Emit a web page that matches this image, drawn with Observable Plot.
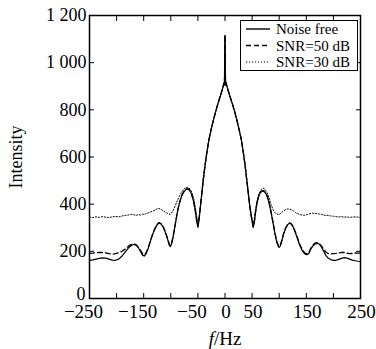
<!DOCTYPE html>
<html><head><meta charset="utf-8">
<script src="https://cdn.jsdelivr.net/npm/d3@7"></script>
<script src="https://cdn.jsdelivr.net/npm/@observablehq/plot@0.6"></script>
<style>
body{margin:0;background:#fff;}
#wrap{position:relative;width:376px;height:349px;}
#legend{position:absolute;left:240px;top:20px;}
</style>
</head><body>
<div id="wrap"></div>
<script>
const freq = [-250,-244,-238,-232,-226,-220,-214,-208,-202,-196,
-190,-184,-178,-172,-168,-164,-160,-156,-152,-149,
-146,-142,-138,-134,-130,-126,-122,-118,-114,-110,
-106,-103,-101,-99,-96,-92,-88,-84,-80,-76,
-72,-69,-66,-62,-58,-55,-52,-50,-48,-46,
-43,-40,-37,-34,-30,-26,-22,-18,-14,-10,
-7,-4,-2,-1,0,1,2,4,7,10,
14,18,22,26,30,34,37,40,43,46,
49,52,54,56,59,63,67,70,73,77,
81,85,89,93,96,99,100,102,105,108,
112,116,119,122,126,130,134,138,142,146,
149,152,155,158,162,166,170,174,178,182,
186,190,195,200,205,210,215,220,225,230,
235,240,245,250];
const noiseFree = [162,164,167,170,172,171,167,163,162,167,
180,198,215,226,229,226,216,200,184,180,
188,210,240,268,292,310,320,316,302,280,
252,228,220,228,258,310,365,405,435,452,
462,464,460,445,412,375,325,302,330,375,
440,505,560,610,668,712,750,785,818,848,
870,893,912,905,1115,905,914,895,872,850,
822,790,755,715,675,615,565,505,445,385,
340,302,320,360,405,440,453,456,452,438,
410,365,315,265,235,218,217,222,245,272,
298,314,319,316,302,278,252,225,205,192,
187,186,192,208,222,231,234,230,218,200,
183,172,165,162,162,166,170,173,171,167,
163,160,158,157];
const snr50 = [191,192,194,196,195,193,190,188,190,194,
200,210,222,230,231,228,218,204,190,186,
192,213,242,270,294,312,322,318,304,283,
256,232,225,232,260,312,366,406,436,454,
464,466,462,446,414,377,328,306,333,377,
441,506,561,611,669,713,751,786,819,849,
871,894,913,906,1115,906,915,896,873,851,
823,791,756,716,676,616,566,506,446,387,
343,306,323,362,407,442,455,458,454,440,
412,367,318,268,239,222,221,226,248,275,
300,316,321,318,305,281,256,230,210,196,
191,190,196,212,226,235,237,233,223,208,
197,191,189,190,191,193,196,195,192,190,
191,193,192,193];
const snr30 = [345,343,346,344,347,345,343,346,348,346,
350,352,354,357,355,352,356,354,358,356,
360,362,366,370,374,379,382,378,372,366,
361,358,357,362,372,392,415,435,452,464,
470,472,468,455,425,390,345,318,340,380,
442,506,562,612,670,713,752,786,820,850,
872,895,914,907,1116,907,915,897,874,852,
824,792,757,717,677,617,567,508,450,392,
350,315,335,370,412,447,462,468,465,452,
428,398,375,362,358,356,357,360,366,372,
377,380,379,377,372,365,360,356,354,353,
354,356,358,360,362,361,360,358,356,354,
352,353,350,349,347,346,347,345,346,344,
345,346,345,344];
const xTicks = [-250,-200,-150,-100,-50,0,50,100,150,200,250];
const xNegLabelValues = [-250,-150,-50];
const xNegLabelText = ["−250","−150","−50"];
const xPosLabelValues = [0,50,150,250];
const xPosLabelText = ["0","50","150","250"];
const yTicks = [0,200,400,600,800,1000,1200];
const yZeroLabel = [0];
const yLabelValues = [200,400,600,800,1000,1200];
const yLabelText = ["200","400","600","800","1 000","1 200"];
const seriesNames = ["Noise free","SNR=50 dB","SNR=30 dB"];
const seriesDash = [null,"5,3","1.2,1.8"];
const seriesWidth = [1.2,1.3,1];

const font = "Times New Roman";
const plot = Plot.plot({
  width:376, height:349, marginLeft:89, marginRight:16, marginTop:15, marginBottom:51,
  style:{fontFamily:"'Times New Roman', serif", fontSize:"18px", background:"#fff", color:"#000", overflow:"visible"},
  x:{domain:[-250,250]}, y:{domain:[0,1200]},
  marks:[
    Plot.line(freq,{x:freq,y:snr30,stroke:"#000",strokeWidth:seriesWidth[2],strokeDasharray:seriesDash[2]}),
    Plot.line(freq,{x:freq,y:snr50,stroke:"#000",strokeWidth:seriesWidth[1],strokeDasharray:seriesDash[1]}),
    Plot.line(freq,{x:freq,y:noiseFree,stroke:"#000",strokeWidth:seriesWidth[0]}),
    Plot.frame({stroke:"#000", strokeWidth:1.5}),
    Plot.axisX(xTicks,{anchor:"bottom",tickSize:-5,tickFormat:()=>"",label:null}),
    Plot.axisX(xTicks,{anchor:"top",tickSize:-5,tickFormat:()=>"",label:null}),
    Plot.axisY(yTicks,{anchor:"left",tickSize:-5,tickFormat:()=>"",label:null}),
    Plot.axisY(yTicks,{anchor:"right",tickSize:-5,tickFormat:()=>"",label:null}),
    Plot.axisX(xNegLabelValues,{anchor:"bottom",tickSize:0,tickPadding:6,fontSize:19,dx:-6,tickFormat:d=>xNegLabelText[xNegLabelValues.indexOf(d)],label:null}),
    Plot.axisX(xPosLabelValues,{anchor:"bottom",tickSize:0,tickPadding:6,fontSize:19,dx:1,tickFormat:d=>xPosLabelText[xPosLabelValues.indexOf(d)],label:"f/Hz",labelAnchor:"center",labelOffset:46,labelArrow:"none"}),
    Plot.axisY(yZeroLabel,{anchor:"left",tickSize:0,tickPadding:4,dy:-4,tickFormat:()=>"0",label:null}),
    Plot.axisY(yLabelValues,{anchor:"left",tickSize:0,tickPadding:3,tickFormat:d=>yLabelText[yLabelValues.indexOf(d)],label:"Intensity",labelAnchor:"center",labelOffset:80,labelArrow:"none"})
  ]
});
const wrap = document.getElementById("wrap");
wrap.appendChild(plot);
d3.select(plot).selectAll("text").attr("font-family",font).style("font-family",font);
d3.select(plot).selectAll("text").each(function(){
  if (this.textContent === "f/Hz") {
    const t = d3.select(this); t.text("");
    t.append("tspan").attr("font-style","italic").text("f");
    t.append("tspan").text("/Hz");
  }
});
const lg = d3.select(wrap).append("svg").attr("id","legend").attr("width",119).attr("height",52);
lg.append("rect").attr("x",0.5).attr("y",0.5).attr("width",117).attr("height",50).attr("fill","#fff").attr("stroke","#000").attr("stroke-width",1);
seriesNames.forEach((name,i)=>{
  const cy = 9 + i*16.5;
  lg.append("line").attr("x1",6).attr("x2",30).attr("y1",cy).attr("y2",cy).attr("stroke","#000")
    .attr("stroke-width",seriesWidth[i]+0.2).attr("stroke-dasharray",seriesDash[i]);
  lg.append("text").attr("x",36).attr("y",cy).attr("dy","0.35em").attr("font-family",font).style("font-family",font).attr("font-size",15).text(name);
});
</script>
</body></html>
